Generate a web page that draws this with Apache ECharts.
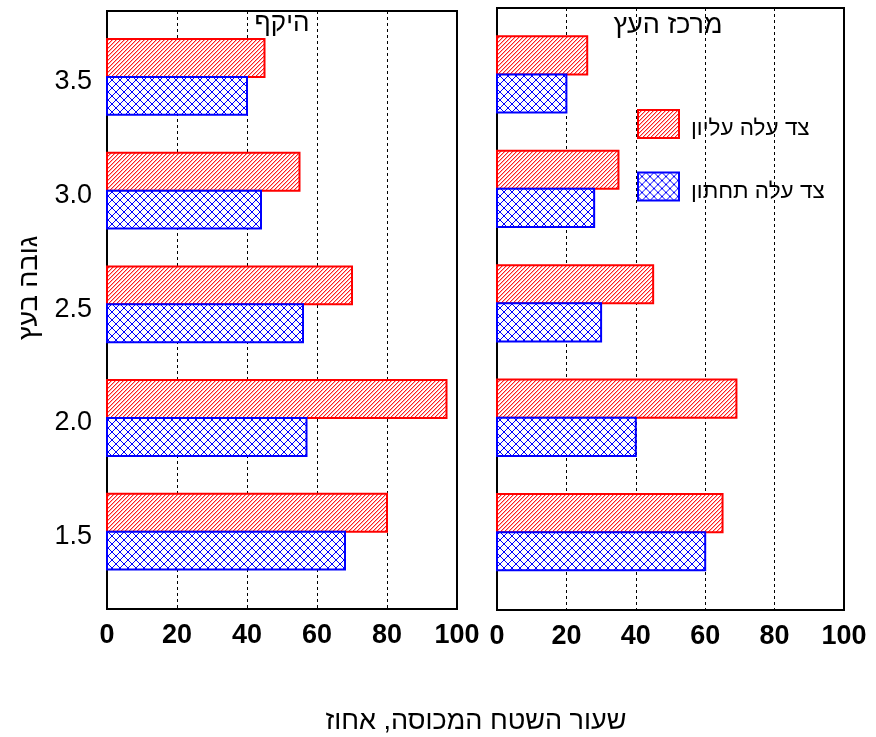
<!DOCTYPE html>
<html>
<head>
<meta charset="utf-8">
<script src="https://cdn.jsdelivr.net/npm/echarts@6/dist/echarts.min.js"></script>
<style>
  html, body { margin: 0; padding: 0; background: #fff; }
  #chart { width: 876px; height: 737px; }
</style>
</head>
<body>
<div id="chart"></div>
<script>
// Tree height levels (y axis) and x axis ticks
const heights = [1.5, 2.0, 2.5, 3.0, 3.5];
const xTicks = [0, 20, 40, 60, 80, 100];

// Covered area share, percent — periphery of the tree
const peripheryUpper = [80, 97, 70, 55, 45];
const peripheryLower = [68, 57, 56, 44, 40];
// Covered area share, percent — tree centre
const centerUpper = [65, 69, 45, 35, 26];
const centerLower = [60, 40, 30, 28, 20];

const seriesNames = ['צד עלה עליון', 'צד עלה תחתון'];
const panelTitles = ['היקף', 'מרכז העץ'];
const yTitle = 'גובה בעץ';
const xTitle = 'שעור השטח המכוסה, אחוז';

const HEB_FONT = '"Liberation Sans", "DejaVu Sans", sans-serif';
const BAR = 1 / 6; // bar thickness in height units

// Hatch fills, drawn pixel by pixel on a 16px tile
function hatchRed() {
  const s = 16;
  const c = document.createElement('canvas');
  c.width = s; c.height = s;
  const g = c.getContext('2d');
  g.fillStyle = 'rgb(255,255,255)'; g.fillRect(0, 0, s, s);
  for (let y = 0; y < s; y++) {
    for (let x = 0; x < s; x++) {
      const k = (x + y) % 4;
      if (k === 3) { g.fillStyle = 'rgb(255,30,30)'; g.fillRect(x, y, 1, 1); }
      else if (k === 0) { g.fillStyle = 'rgb(255,175,175)'; g.fillRect(x, y, 1, 1); }
    }
  }
  return { image: c, repeat: 'repeat' };
}
function hatchBlue() {
  const s = 8;
  const c = document.createElement('canvas');
  c.width = s; c.height = s;
  const g = c.getContext('2d');
  g.fillStyle = '#ffffff'; g.fillRect(0, 0, s, s);
  g.strokeStyle = '#0000ff'; g.lineWidth = 1;
  g.beginPath();
  g.moveTo(-1, -1); g.lineTo(s + 1, s + 1);
  g.moveTo(-1, s + 1); g.lineTo(s + 1, -1);
  g.stroke();
  return { image: c, repeat: 'repeat' };
}
const redFill = hatchRed();
const blueFill = hatchBlue();

// Upper-side bars sit just above their height tick, lower-side bars just below
function makeRender(above) {
  return function (params, api) {
    const v = api.value(0), h = api.value(1);
    const a = api.coord([0, h]);
    const b = api.coord([v, h]);
    const t = api.size([0, BAR])[1];
    return {
      type: 'rect',
      shape: { x: a[0], y: above ? a[1] - t : a[1], width: b[0] - a[0], height: t },
      style: api.style()
    };
  };
}

function barSeries(name, values, idx, above) {
  return {
    type: 'custom',
    name: name,
    xAxisIndex: idx,
    yAxisIndex: idx,
    renderItem: makeRender(above),
    encode: { x: 0, y: 1 },
    itemStyle: {
      color: above ? redFill : blueFill,
      borderColor: above ? '#ff0000' : '#0000ff',
      borderWidth: 2
    },
    data: heights.map((h, i) => [values[i], h])
  };
}

function xAxis(idx) {
  return {
    type: 'value', gridIndex: idx, min: 0, max: 100, interval: 20,
    axisLine: { show: false },
    axisTick: { show: false },
    splitLine: { show: true, showMinLine: false, showMaxLine: false,
      lineStyle: { color: '#000', width: 1, type: [3, 3] } },
    axisLabel: {
      customValues: xTicks, margin: 13, color: '#000', fontSize: 27, fontWeight: 'bold',
      fontFamily: '"Liberation Sans Narrow", "Liberation Sans", Arial, sans-serif'
    }
  };
}
function yAxis(idx, showLabels) {
  return {
    type: 'value', gridIndex: idx, min: 1.16, max: 3.79,
    axisLine: { show: false },
    axisTick: { show: false },
    splitLine: { show: false },
    axisLabel: {
      show: showLabels, customValues: heights, margin: 15,
      formatter: v => '{t|' + v.toFixed(1) + '}',
      rich: {
        t: { color: '#000', fontSize: 27, fontFamily: '"Liberation Sans", Arial, sans-serif', padding: [10, 0, 0, 0] }
      }
    }
  };
}

const chart = echarts.init(document.getElementById('chart'), null, { renderer: 'canvas' });
chart.setOption({
  backgroundColor: '#fff',
  animation: false,
  grid: [
    { left: 107, top: 11, width: 350, height: 598, show: true, borderColor: '#000', borderWidth: 2, backgroundColor: 'transparent' },
    { left: 497, top: 8, width: 347, height: 602, show: true, borderColor: '#000', borderWidth: 2, backgroundColor: 'transparent' }
  ],
  xAxis: [xAxis(0), xAxis(1)],
  yAxis: [yAxis(0, true), yAxis(1, false)],
  legend: {
    data: seriesNames,
    orient: 'vertical',
    left: 637, top: 109, padding: 0,
    itemWidth: 41, itemHeight: 28, itemGap: 31,
    icon: 'rect',
    formatter: name => '{t|' + name + '}',
    textStyle: {
      rich: { t: { fontSize: 22.5, color: '#000', fontFamily: HEB_FONT, padding: [10, 0, 0, 7] } }
    }
  },
  graphic: [
    { type: 'text', x: 282, y: 24, style: { text: panelTitles[0], font: '26px ' + HEB_FONT, fill: '#000', textAlign: 'center', textVerticalAlign: 'middle' } },
    { type: 'text', x: 668, y: 26, style: { text: panelTitles[1], font: '27px ' + HEB_FONT, fill: '#000', textAlign: 'center', textVerticalAlign: 'middle' } },
    { type: 'text', x: 30, y: 288, rotation: Math.PI / 2, style: { text: yTitle, font: '27px ' + HEB_FONT, fill: '#000', textAlign: 'center', textVerticalAlign: 'middle' } },
    { type: 'text', x: 476, y: 722, style: { text: xTitle, font: '27px ' + HEB_FONT, fill: '#000', textAlign: 'center', textVerticalAlign: 'middle' } }
  ],
  series: [
    barSeries(seriesNames[0], peripheryUpper, 0, true),
    barSeries(seriesNames[1], peripheryLower, 0, false),
    barSeries(seriesNames[0], centerUpper, 1, true),
    barSeries(seriesNames[1], centerLower, 1, false)
  ]
});
</script>
</body>
</html>
